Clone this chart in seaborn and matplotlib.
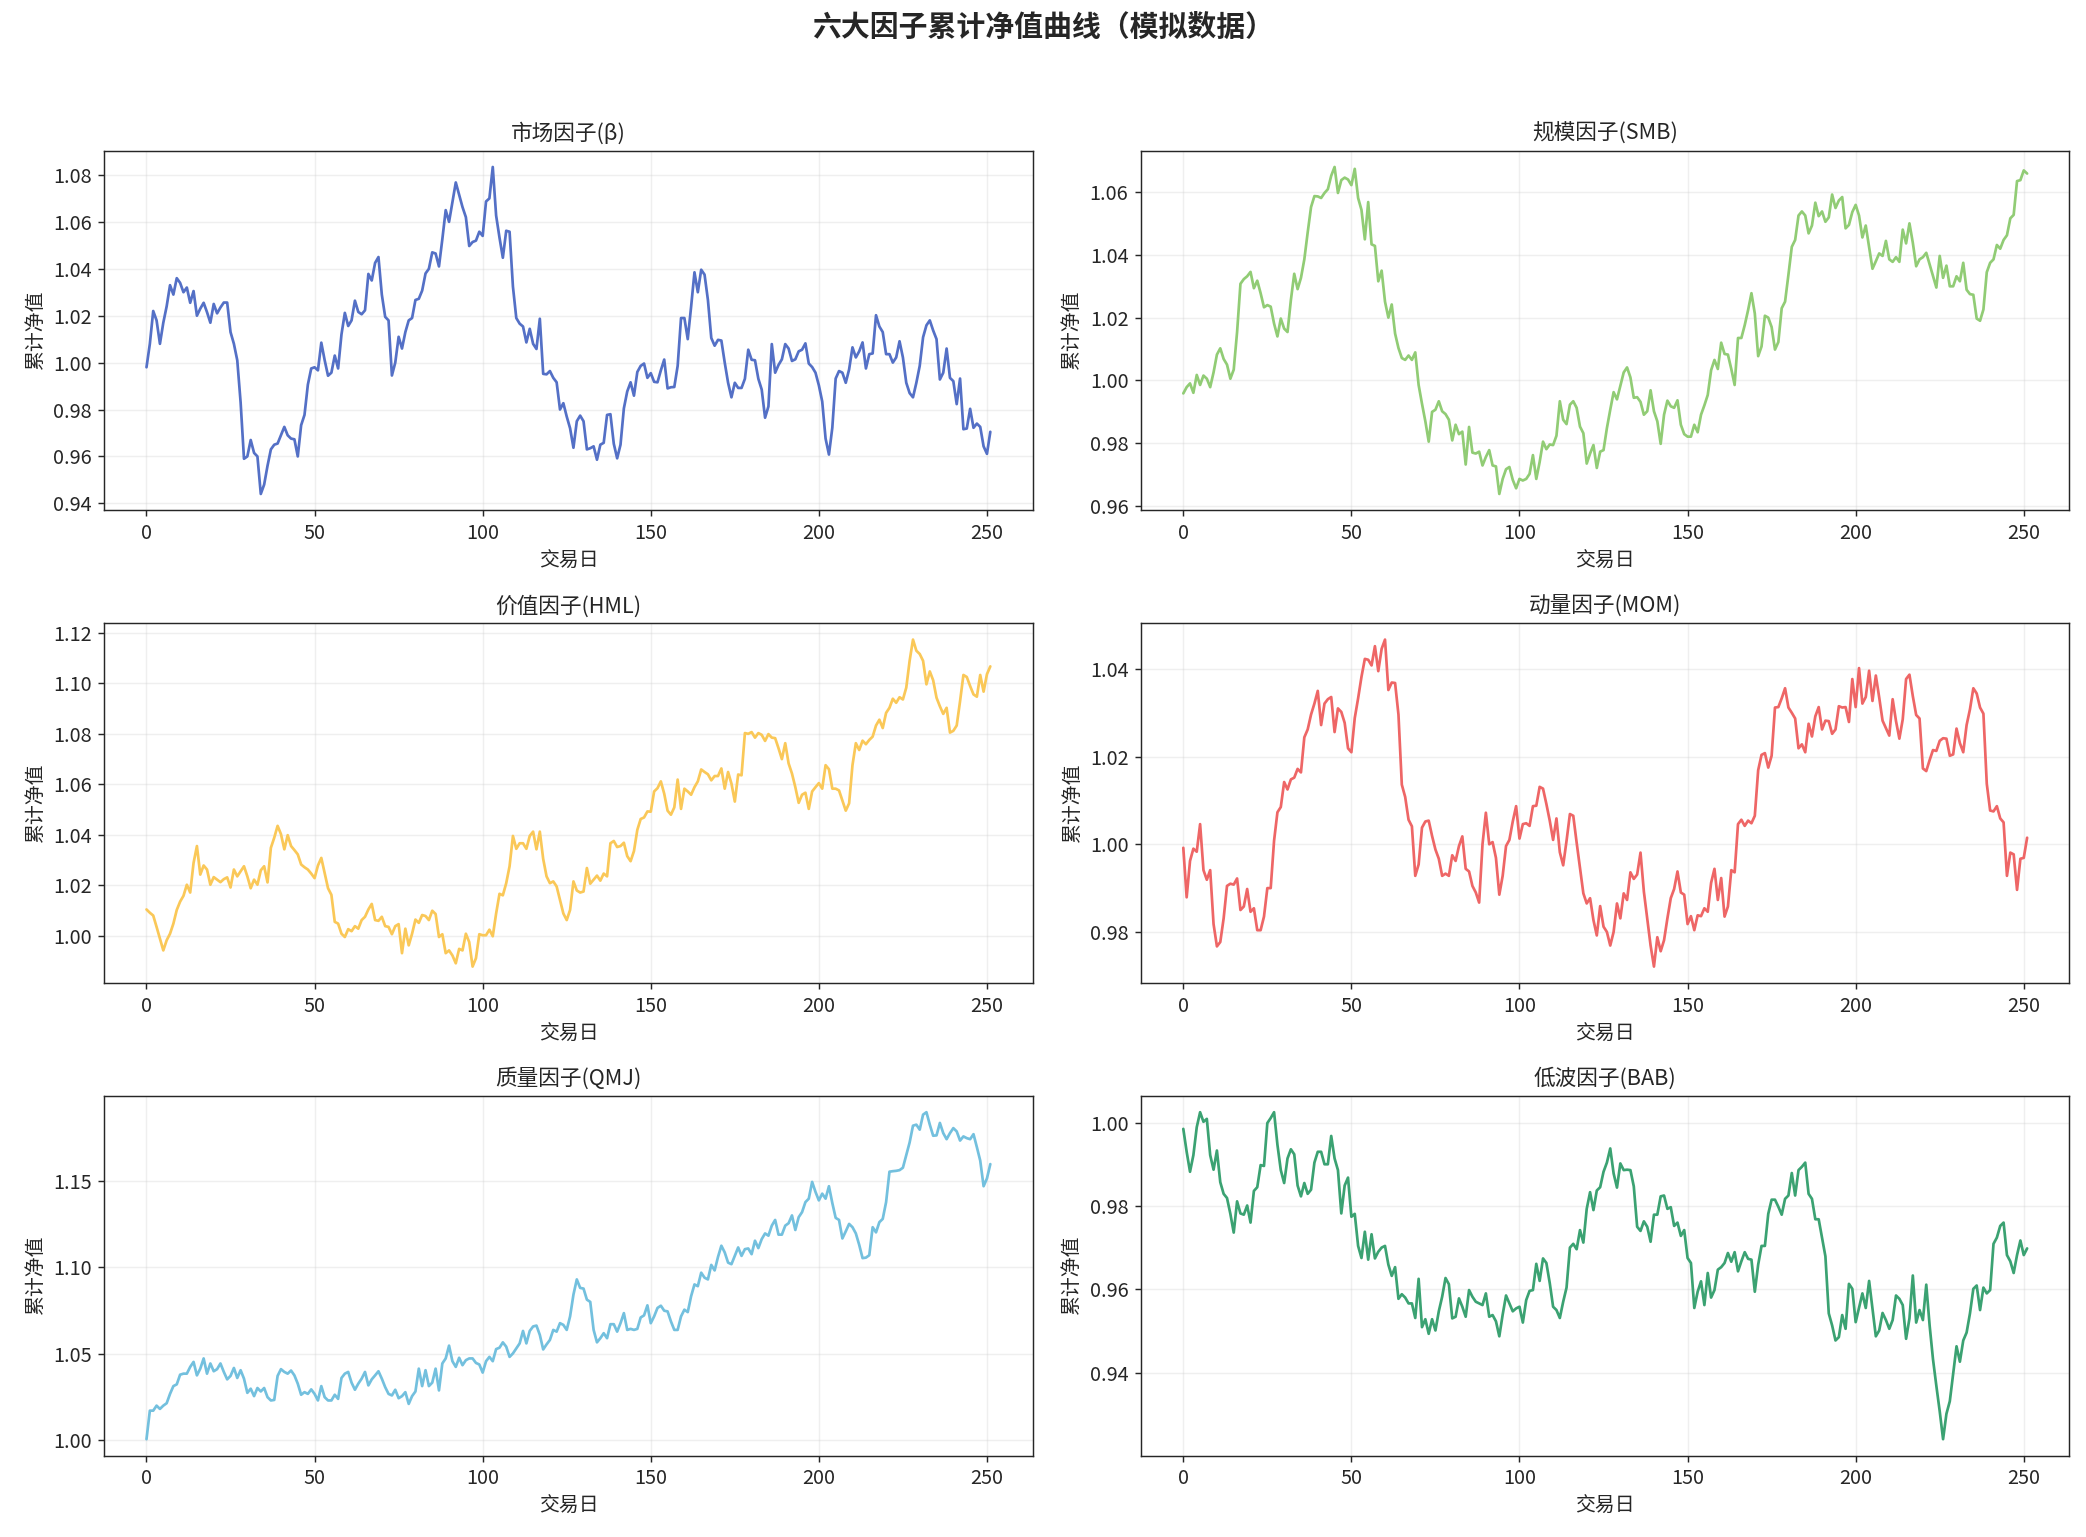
import numpy as np
import pandas as pd
import seaborn as sns
import matplotlib
matplotlib.use("Agg")
import matplotlib.pyplot as plt
from matplotlib.ticker import MultipleLocator

# values, one per trading day (0..251)
mkt = [
    0.998, 1.008, 1.022, 1.018, 1.008, 1.017, 1.024, 1.033, 1.029, 1.036,
    1.034, 1.030, 1.032, 1.0255, 1.0305, 1.020, 1.023, 1.0255, 1.0215, 1.017,
    1.025, 1.021, 1.0235, 1.0256, 1.0256, 1.013, 1.008, 1.001, 0.983, 0.959,
    0.960, 0.967, 0.9615, 0.960, 0.944, 0.948, 0.956, 0.963, 0.965, 0.9655,
    0.969, 0.9726, 0.969, 0.9676, 0.9673, 0.960, 0.9733, 0.9777, 0.9906, 0.9975,
    0.998, 0.9967, 1.0085, 1.001, 0.9944, 0.9957, 1.003, 0.9975, 1.012, 1.0212,
    1.0156, 1.018, 1.0264, 1.0216, 1.0206, 1.0223, 1.0378, 1.035, 1.0425, 1.045,
    1.029, 1.0195, 1.018, 0.9945, 1.000, 1.011, 1.006, 1.013, 1.018, 1.019,
    1.0267, 1.0272, 1.0307, 1.038, 1.040, 1.047, 1.0465, 1.041, 1.0526, 1.065,
    1.060, 1.0685, 1.0768, 1.0716, 1.0663, 1.062, 1.0497, 1.0514, 1.052, 1.0558,
    1.054, 1.0687, 1.070, 1.0834, 1.0627, 1.0533, 1.0447, 1.0562, 1.0558, 1.0324,
    1.019, 1.0166, 1.0154, 1.0086, 1.0144, 1.008, 1.0058, 1.0187, 0.9952, 0.995,
    0.9964, 0.9935, 0.9916,
    0.980, 0.9827, 0.977, 0.972, 0.9637, 0.975, 0.9774, 0.975, 0.963, 0.9635,
    0.9643, 0.9586, 0.965, 0.9658, 0.9777, 0.978, 0.9654, 0.9592, 0.965, 0.9805,
    0.9877, 0.9916, 0.9859, 0.996, 0.9986, 0.9996, 0.9935, 0.9955, 0.9918, 0.9916,
    0.9967, 1.0013, 0.989, 0.9895, 0.9896, 0.9986, 1.019, 1.019, 1.010, 1.0238,
    1.0385, 1.030, 1.0396, 1.0375, 1.0267, 1.0105, 1.0072, 1.0097, 1.0094, 1.000,
    0.9914, 0.9852, 0.9914, 0.9892, 0.9892, 0.9931, 1.0055, 1.0012, 1.001, 0.9931,
    0.9885, 0.9765, 0.9813, 1.0079, 0.9957, 0.999, 1.0014, 1.0079, 1.006, 1.0007,
    1.0014, 1.0048, 1.0055, 1.0082, 0.9996, 0.9981, 0.9957, 0.9903, 0.9834, 0.9676,
    0.9608, 0.9722, 0.9932, 0.9964, 0.9957, 0.9914, 0.9971, 1.0065, 1.0022, 1.0048,
    1.0086, 0.9975, 1.0036, 1.0039, 1.0202, 1.0154, 1.013, 1.0036, 1.0036, 1.000,
    1.0022, 1.0091, 1.0022, 0.9914, 0.987, 0.9852, 0.9914, 0.9986, 1.0108, 1.0159,
    1.018, 1.0137, 1.010, 0.9928, 0.9957, 1.006, 0.9935, 0.9921, 0.9823, 0.9932,
    0.9716, 0.9719, 0.9803, 0.9722, 0.974, 0.9726, 0.9643, 0.9611, 0.9705,
]

smb = [
    0.9958, 0.9978, 0.999, 0.996, 1.0017, 0.9985, 1.0015, 1.0005, 0.9978, 1.0025,
    1.0082, 1.0102, 1.0068, 1.005, 1.0005, 1.0034, 1.0154, 1.0308, 1.0323, 1.0332,
    1.0346, 1.0294, 1.0318, 1.0278, 1.0233, 1.024, 1.0235, 1.0181, 1.014, 1.0197,
    1.0165, 1.0154, 1.0256, 1.034, 1.0291, 1.0327, 1.0386, 1.0472, 1.0553, 1.0588,
    1.0587, 1.0582, 1.0598, 1.061, 1.0653, 1.0681, 1.0598, 1.0639, 1.0647, 1.0641,
    1.0623, 1.0675, 1.0582, 1.0544, 1.045, 1.0569, 1.0434, 1.0429, 1.0316, 1.035,
    1.0251, 1.02, 1.0242, 1.0149, 1.0103, 1.0071, 1.0065, 1.0079, 1.0065, 1.0089,
    0.9985, 0.9925, 0.9869, 0.9804, 0.9899, 0.9906, 0.9933, 0.9901, 0.9892, 0.9874,
    0.9808, 0.9858, 0.9828, 0.9836, 0.9731, 0.9851, 0.9769, 0.9766, 0.9772, 0.9728,
    0.9755, 0.9777, 0.9728, 0.9725, 0.9637, 0.9685, 0.9716, 0.9723, 0.9682, 0.9655,
    0.9685, 0.968, 0.9685, 0.9701, 0.9761, 0.9685, 0.9739, 0.9804, 0.978, 0.9795,
    0.9793, 0.9823, 0.9933, 0.9874, 0.986, 0.9922, 0.9933, 0.9912, 0.9852,
    0.9831, 0.9734, 0.9766, 0.9793, 0.972, 0.9772, 0.9777, 0.9847, 0.9906, 0.9962,
    0.9939, 0.9982, 1.0025, 1.0041, 1.0009, 0.9944, 0.9946, 0.9931, 0.989, 0.9901,
    0.9968, 0.9901, 0.9869, 0.9797, 0.989, 0.9935, 0.9917, 0.9912, 0.9936, 0.9858,
    0.9828, 0.982, 0.982, 0.9858, 0.9834, 0.989, 0.992, 0.9953, 1.0032, 1.0065,
    1.0036, 1.012, 1.0084, 1.0082, 1.0036, 0.9985, 1.0135, 1.0135, 1.0176, 1.0224,
    1.0278, 1.0213, 1.0077, 1.0108, 1.0206, 1.02, 1.017, 1.0098, 1.0122, 1.023,
    1.0251, 1.0337, 1.0426, 1.0448, 1.0526, 1.0539, 1.0526, 1.0469, 1.0494, 1.0567,
    1.0524, 1.0539, 1.0506, 1.052, 1.0593, 1.055, 1.0574, 1.0585, 1.0485, 1.0496,
    1.0537, 1.056, 1.0526, 1.0456, 1.0494, 1.0424, 1.0356, 1.038, 1.0405, 1.0397,
    1.0445, 1.0386, 1.0378, 1.0393, 1.0378, 1.0481, 1.0437, 1.0501, 1.0439, 1.0364,
    1.0386, 1.0393, 1.0407, 1.037, 1.0332, 1.0296, 1.0397, 1.0327, 1.0366, 1.03,
    1.03, 1.0332, 1.0316, 1.0375, 1.0289, 1.0275, 1.0273, 1.0197, 1.019, 1.0226,
    1.0345, 1.0375, 1.0386, 1.0432, 1.042, 1.0448, 1.0463, 1.0517, 1.0528, 1.0636,
    1.0639, 1.067, 1.066,
]

hml = [
    1.0105, 1.0092, 1.0081, 1.0036, 0.9989, 0.9943, 0.9983, 1.0009, 1.0049, 1.0103,
    1.0136, 1.0159, 1.0203, 1.0172, 1.0289, 1.0356, 1.0243, 1.0279, 1.0263, 1.0203,
    1.0233, 1.0223, 1.0213, 1.0225, 1.0232, 1.0192, 1.0263, 1.0236, 1.0256, 1.0276,
    1.0236, 1.0189, 1.0223, 1.0203, 1.026, 1.0276, 1.0212, 1.0349, 1.0389, 1.0436,
    1.0403, 1.0343, 1.0399, 1.0356, 1.034, 1.0323, 1.0283, 1.0272, 1.0263, 1.0247,
    1.0229, 1.0279, 1.0309, 1.0249, 1.0189, 1.0163, 1.0056, 1.0049, 1.0009, 0.9996,
    1.0027, 1.0019, 1.0039, 1.0029, 1.0063, 1.0076, 1.0105, 1.0127, 1.0063, 1.006,
    1.0076, 1.0039, 1.0036, 1.0007, 1.0039, 1.0047, 0.9932, 1.0029, 0.9963, 1.0009,
    1.0065, 1.0052, 1.0083, 1.0079, 1.0063, 1.01, 1.0087, 0.9996, 1.0007, 0.9932,
    0.9943, 0.9923, 0.9892, 0.9949, 0.9943, 1.0009, 0.9976, 0.9879, 0.9912, 1.0007,
    1.0003, 1.0003, 1.0025, 0.9999, 1.0089, 1.0167, 1.0161, 1.0209, 1.0276, 1.0396,
    1.0345, 1.0367, 1.0367, 1.0345, 1.0396, 1.0413, 1.0343, 1.0413, 1.0305, 1.0236,
    1.0209, 1.0216, 1.0196,
    1.0143, 1.0089, 1.0063, 1.0103, 1.0216, 1.018, 1.0172, 1.0176, 1.0269, 1.0207,
    1.0223, 1.0239, 1.0219, 1.0247, 1.0236, 1.0367, 1.0376, 1.0352, 1.0356, 1.0369,
    1.0316, 1.0296, 1.0336, 1.042, 1.0463, 1.0469, 1.0493, 1.0492, 1.0572, 1.0585,
    1.0612, 1.0563, 1.0496, 1.048, 1.0509, 1.0619, 1.0503, 1.0583, 1.0572, 1.0559,
    1.0589, 1.0612, 1.0659, 1.0649, 1.064, 1.0616, 1.0633, 1.0633, 1.0663, 1.0583,
    1.0649, 1.0603, 1.0532, 1.0639, 1.0636, 1.0803, 1.08, 1.0807, 1.0785, 1.0803,
    1.0796, 1.0772, 1.0799, 1.0785, 1.0783, 1.0743, 1.07, 1.0763, 1.0683, 1.0643,
    1.0589, 1.0527, 1.0559, 1.0567, 1.0503, 1.0572, 1.0589, 1.0605, 1.0583, 1.0676,
    1.066, 1.0583, 1.0583, 1.0576, 1.0536, 1.0496, 1.0525, 1.0676, 1.0763, 1.0736,
    1.0773, 1.0759, 1.0776, 1.0789, 1.0833, 1.0856, 1.0823, 1.0883, 1.0903, 1.0939,
    1.0923, 1.0945, 1.0936, 1.0983, 1.1089, 1.1173, 1.1129, 1.1116, 1.1089, 1.0996,
    1.1047, 1.1012, 1.0943, 1.0909, 1.0879, 1.0903, 1.0805, 1.0812, 1.0833, 1.0929,
    1.1033, 1.1025, 1.0989, 1.0956, 1.0947, 1.1033, 1.0967, 1.1036, 1.1067,
]

mom = [
    0.9992, 0.9879, 0.9962, 0.999, 0.9983, 1.0046, 0.9941, 0.9919, 0.9941, 0.9818,
    0.9767, 0.9777, 0.9831, 0.9905, 0.991, 0.9908, 0.9922, 0.985, 0.9858, 0.9898,
    0.9846, 0.9854, 0.9804, 0.9804, 0.9835, 0.99, 0.99, 1.0008, 1.0073, 1.0085,
    1.0142, 1.0125, 1.0148, 1.0152, 1.0172, 1.0164, 1.0244, 1.0262, 1.0296, 1.0321,
    1.035, 1.0272, 1.0321, 1.0331, 1.0336, 1.0256, 1.031, 1.0302, 1.0277, 1.0219,
    1.021, 1.0288, 1.0333, 1.0382, 1.0423, 1.0421, 1.0408, 1.0452, 1.0395, 1.0446,
    1.0467, 1.0352, 1.0369, 1.0368, 1.0296, 1.0136, 1.0108, 1.0056, 1.0041, 0.9928,
    0.9954, 1.0038, 1.0052, 1.0054, 1.0019, 0.9988, 0.9967, 0.9928, 0.9933, 0.9928,
    0.9975, 0.9962, 0.9996, 1.0018, 0.9944, 0.9938, 0.9905, 0.989, 0.9867, 1.0,
    1.0072, 1.0, 1.0005, 0.9969, 0.9885, 0.9928, 0.9996, 1.001, 1.0052, 1.0087,
    1.0013, 1.0046, 1.0048, 1.0042, 1.0087, 1.0088, 1.0131, 1.0127, 1.0092, 1.0054,
    1.001, 1.0059, 0.9982, 0.9952, 1.0008, 1.0069, 1.0065, 1.0004, 0.9946,
    0.9888, 0.9865, 0.9877, 0.9827, 0.9792, 0.9859, 0.9812, 0.98, 0.9769, 0.98,
    0.9865, 0.9831, 0.9888, 0.9873, 0.9936, 0.9921, 0.9931, 0.9981, 0.9892, 0.9831,
    0.9769, 0.9721, 0.9788, 0.9756, 0.9781, 0.9831, 0.9877, 0.9898, 0.9938, 0.989,
    0.9885, 0.9818, 0.9836, 0.9804, 0.9838, 0.9836, 0.9854, 0.9846, 0.9912, 0.9944,
    0.9873, 0.9923, 0.9835, 0.9858, 0.9941, 0.9936, 1.0046, 1.0056, 1.0042, 1.0054,
    1.0048, 1.0065, 1.0169, 1.0204, 1.0208, 1.0175, 1.0202, 1.0312, 1.0313, 1.0333,
    1.0356, 1.0312, 1.03, 1.0287, 1.0219, 1.0228, 1.021, 1.0275, 1.0246, 1.0292,
    1.0313, 1.0262, 1.0282, 1.0281, 1.0252, 1.0262, 1.0315, 1.0312, 1.0313, 1.0279,
    1.0377, 1.0313, 1.0402, 1.0321, 1.0336, 1.0396, 1.0327, 1.0385, 1.0335, 1.0282,
    1.0265, 1.0248, 1.0331, 1.0281, 1.0241, 1.0285, 1.0377, 1.0387, 1.0338, 1.0295,
    1.0287, 1.0173, 1.0167, 1.0192, 1.0215, 1.0213, 1.0236, 1.0242, 1.0241, 1.0202,
    1.0205, 1.0264, 1.0231, 1.021, 1.0272, 1.0308, 1.0356, 1.0344, 1.0312, 1.0298,
    1.0138, 1.0077, 1.0075, 1.0087, 1.0059, 1.005, 0.9928, 0.9981, 0.9977, 0.9896,
    0.9967, 0.9969, 1.0015,
]

qmj = [
    1.0006, 1.0171, 1.0171, 1.02, 1.0181, 1.02, 1.0214, 1.0268, 1.0313, 1.0323,
    1.0379, 1.0385, 1.0385, 1.0424, 1.0453, 1.0375, 1.0414, 1.0473, 1.0385, 1.0444,
    1.0399, 1.0411, 1.0444, 1.0395, 1.0352, 1.0372, 1.0418, 1.036, 1.0405, 1.0356,
    1.0274, 1.0298, 1.0255, 1.0302, 1.0282, 1.0302, 1.0249, 1.023, 1.0233, 1.0372,
    1.0411, 1.0395, 1.0385, 1.0403, 1.0375, 1.0327, 1.0263, 1.0278, 1.0268, 1.0294,
    1.0268, 1.023, 1.0313, 1.0249, 1.023, 1.023, 1.0263, 1.0239, 1.036, 1.0385,
    1.0395, 1.0333, 1.0292, 1.0327, 1.0356, 1.0395, 1.0317, 1.0352, 1.0375, 1.0399,
    1.0356, 1.0307, 1.0268, 1.0259, 1.0292, 1.0243, 1.0255, 1.0278, 1.021, 1.0255,
    1.0282, 1.0414, 1.0313, 1.0405, 1.0313, 1.0333, 1.0414, 1.0288, 1.0444, 1.0473,
    1.0547, 1.0457, 1.0424, 1.0477, 1.0434, 1.0463, 1.0473, 1.0473, 1.0447, 1.0438,
    1.0391, 1.0457, 1.0482, 1.0457, 1.0527, 1.0535, 1.0566, 1.0541, 1.0482, 1.0502,
    1.0531, 1.056, 1.0632, 1.056, 1.0632, 1.0658, 1.0663, 1.0609, 1.0525, 1.0554,
    1.058, 1.0638, 1.0628,
    1.0677, 1.0667, 1.0638, 1.0716, 1.0842, 1.093, 1.0881, 1.0877, 1.0813, 1.08,
    1.0638, 1.0566, 1.059, 1.0619, 1.059, 1.0671, 1.0671, 1.0628, 1.0677, 1.0735,
    1.0638, 1.0644, 1.0638, 1.0644, 1.071, 1.0722, 1.078, 1.0677, 1.0716, 1.0765,
    1.0778, 1.0749, 1.0745, 1.0687, 1.0638, 1.0638, 1.0716, 1.0755, 1.0741, 1.0833,
    1.0901, 1.0891, 1.0969, 1.094, 1.093, 1.1014, 1.0982, 1.106, 1.1125, 1.1086,
    1.1027, 1.1018, 1.1066, 1.1115, 1.1066, 1.1105, 1.1109, 1.1076, 1.1154, 1.1111,
    1.1163, 1.1196, 1.1183, 1.1241, 1.1274, 1.1189, 1.1189, 1.1241, 1.1255, 1.13,
    1.1216, 1.129, 1.1319, 1.1377, 1.1397, 1.1494, 1.1436, 1.1387, 1.1426, 1.1397,
    1.1469, 1.1372, 1.1286, 1.1274, 1.1167, 1.1208, 1.1251, 1.1232, 1.1196, 1.113,
    1.1053, 1.1056, 1.107, 1.1232, 1.1202, 1.1261, 1.128, 1.1377, 1.1553, 1.1556,
    1.1558, 1.1562, 1.1576, 1.165, 1.1722, 1.1819, 1.1825, 1.1796, 1.1883, 1.1897,
    1.1825, 1.1761, 1.1763, 1.1835, 1.1776, 1.1741, 1.1776, 1.1805, 1.1786, 1.1733,
    1.1757, 1.1747, 1.1741, 1.177, 1.1695, 1.1617, 1.1469, 1.1514, 1.1597,
]

bab = [
    0.9985, 0.993, 0.9882, 0.9922, 0.9989, 1.0025, 1.0002, 1.0009, 0.9922, 0.9887,
    0.9933, 0.9857, 0.9829, 0.9819, 0.9781, 0.9736, 0.9811, 0.9782, 0.9779, 0.9801,
    0.976, 0.9836, 0.9845, 0.9898, 0.9896, 0.9999, 1.0011, 1.0025, 0.9947, 0.9886,
    0.9855, 0.9914, 0.9936, 0.9924, 0.9849, 0.9823, 0.9855, 0.9829, 0.9839, 0.9904,
    0.993, 0.993, 0.99, 0.99, 0.9968, 0.9914, 0.9886, 0.9782, 0.9849, 0.9868,
    0.9774, 0.9781, 0.9704, 0.9675, 0.9738, 0.9671, 0.9732, 0.9674, 0.969, 0.97,
    0.9704, 0.9659, 0.9632, 0.9653, 0.9577, 0.9588, 0.958, 0.9566, 0.9566, 0.9531,
    0.9625, 0.9509, 0.9528, 0.9493, 0.9528, 0.9501, 0.9547, 0.9582, 0.9627, 0.9612,
    0.953, 0.9534, 0.9578, 0.9558, 0.9534, 0.9598, 0.9582, 0.957, 0.9566, 0.9562,
    0.959, 0.9534, 0.9538, 0.9523, 0.9487, 0.9539, 0.9585, 0.9566, 0.9547, 0.9554,
    0.9558, 0.952, 0.9574, 0.9596, 0.9598, 0.9661, 0.962, 0.9674, 0.9663, 0.9615,
    0.9558, 0.955, 0.9531, 0.957, 0.9604, 0.97, 0.9709, 0.9696, 0.9742,
    0.9712, 0.9793, 0.9833, 0.979, 0.9837, 0.9845, 0.9882, 0.9904, 0.9938, 0.9878,
    0.9844, 0.9902, 0.9886, 0.9887, 0.9886, 0.9847, 0.975, 0.974, 0.9763, 0.975,
    0.9714, 0.9779, 0.9779, 0.9823, 0.9825, 0.9793, 0.9797, 0.9752, 0.976, 0.9728,
    0.9742, 0.9675, 0.9663, 0.9555, 0.9594, 0.9619, 0.9562, 0.9639, 0.958, 0.9598,
    0.9647, 0.9653, 0.9663, 0.9687, 0.9666, 0.9689, 0.9643, 0.9667, 0.9689, 0.9673,
    0.9671, 0.9594, 0.9659, 0.9704, 0.9704, 0.9781, 0.9815, 0.9815, 0.9798, 0.9779,
    0.9817, 0.9825, 0.9879, 0.9825, 0.9886, 0.9894, 0.9904, 0.9829, 0.9817, 0.9768,
    0.9768, 0.9724, 0.9679, 0.9542, 0.9513, 0.9477, 0.9485, 0.9538, 0.9505, 0.9613,
    0.9601, 0.9521, 0.9555, 0.959, 0.9555, 0.962, 0.9554, 0.9487, 0.9501, 0.9543,
    0.9526, 0.9505, 0.9526, 0.9585, 0.9577, 0.9562, 0.9481, 0.953, 0.9633, 0.952,
    0.955, 0.9526, 0.9611, 0.9513, 0.9432, 0.9368, 0.9307, 0.924, 0.9301, 0.9331,
    0.9396, 0.9463, 0.9426, 0.9477, 0.9496, 0.9542, 0.9601, 0.9609, 0.955, 0.9604,
    0.959, 0.9598, 0.9709, 0.9724, 0.9752, 0.976, 0.9682, 0.9667, 0.9639, 0.9682,
    0.9717, 0.9682, 0.9698,
]

titles = ["市场因子(β)", "规模因子(SMB)", "价值因子(HML)",
          "动量因子(MOM)", "质量因子(QMJ)", "低波因子(BAB)"]
colors = ["#5470c6", "#91cc75", "#fac858", "#ee6666", "#73c0de", "#3ba272"]
series = [mkt, smb, hml, mom, qmj, bab]
ytick_step = [0.02, 0.02, 0.02, 0.02, 0.05, 0.02]

sns.set_style("ticks")
plt.rcParams['font.family'] = ['Noto Sans CJK SC', 'DejaVu Sans']
plt.rcParams['axes.unicode_minus'] = False

fig, axes = plt.subplots(3, 2, figsize=(2086 / 130, 1537 / 130), dpi=130)
fig.subplots_adjust(left=0.05, right=0.992, top=0.902, bottom=0.053,
                    wspace=0.117, hspace=0.314)

for ax, title, color, vals, step in zip(axes.flat, titles, colors, series, ytick_step):
    df = pd.DataFrame({"day": np.arange(len(vals)), "nav": vals})
    sns.lineplot(data=df, x="day", y="nav", ax=ax, color=color, linewidth=1.5)
    ax.set_title(title, fontsize=12)
    ax.set_xlabel("交易日", fontsize=11)
    ax.set_ylabel("累计净值", fontsize=11)
    ax.yaxis.set_major_locator(MultipleLocator(step))
    ax.tick_params(labelsize=11)
    ax.grid(True, alpha=0.3)

fig.suptitle("六大因子累计净值曲线（模拟数据）", fontsize=16, fontweight="bold", y=0.992)
fig.savefig("out.png", dpi=130)
